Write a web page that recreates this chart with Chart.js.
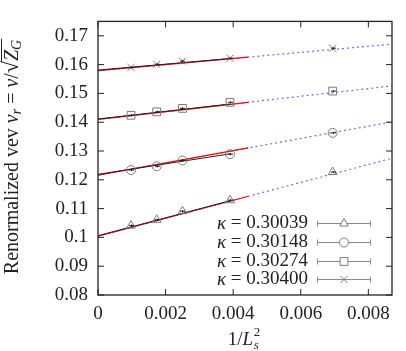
<!DOCTYPE html>
<html>
<head>
<meta charset="utf-8">
<script src="https://cdn.jsdelivr.net/npm/chart.js@4.4.1/dist/chart.umd.min.js"></script>
<style>
html,body{margin:0;padding:0;background:#fff;}
#wrap{width:406px;height:351px;position:relative;}
</style>
</head>
<body>
<div id="wrap"><canvas id="c" width="406" height="351"></canvas></div>
<script>
// ---- data ----
const invLs2 = [0.000977, 0.001736, 0.0025, 0.003906, 0.006944];
const kappaLabels = ['κ = 0.30039', 'κ = 0.30148', 'κ = 0.30274', 'κ = 0.30400'];
const vr30039 = [0.1041, 0.1061, 0.1091, 0.1129, 0.1227];
const vr30148 = [0.1234, 0.1247, 0.1267, 0.1289, 0.1363];
const vr30274 = [0.1424, 0.1436, 0.1448, 0.1469, 0.1508];
const vr30400 = [0.1590, 0.1601, 0.1612, 0.1622, 0.1657];
const err30039 = [0.0004, 0.0004, 0.0004, 0.0004, 0.0003];
const err30148 = [0.0004, 0.0004, 0.0004, 0.0004, 0.0003];
const err30274 = [0.0004, 0.0004, 0.0004, 0.0004, 0.0003];
const err30400 = [0.0004, 0.0004, 0.0004, 0.0004, 0.0003];
// fit lines: x ranges and end values
const fitBlackX = [0, 0.0039];
const fitBlack30039 = [0.1006, 0.1127];
const fitBlack30148 = [0.1219, 0.1290];
const fitBlack30274 = [0.1411, 0.1463];
const fitBlack30400 = [0.1581, 0.1621];
const fitRedX = [0, 0.00445];
const fitRed30039 = [0.1004, 0.1143];
const fitRed30148 = [0.1216, 0.1311];
const fitRed30274 = [0.1410, 0.1469];
const fitRed30400 = [0.1579, 0.1626];
const fitBlueX = [0, 0.0087];
const fitBlue30039 = [0.1004, 0.1275];
const fitBlue30148 = [0.1216, 0.1401];
const fitBlue30274 = [0.1410, 0.1526];
const fitBlue30400 = [0.1579, 0.1671];
const yTicksMin = 0.08, yTicksMax = 0.175, yStep = 0.01;
const xTicksMin = 0, xTicksMax = 0.0087, xStep = 0.002;

const series = [vr30039, vr30148, vr30274, vr30400];
const errs = [err30039, err30148, err30274, err30400];
const styles = ['triangle', 'circle', 'rect', 'crossRot'];
const radii = [5, 4.5, 5.5, 5];
const blacks = [fitBlack30039, fitBlack30148, fitBlack30274, fitBlack30400];
const reds = [fitRed30039, fitRed30148, fitRed30274, fitRed30400];
const blues = [fitBlue30039, fitBlue30148, fitBlue30274, fitBlue30400];

const FONT = '"Liberation Serif", serif';
const TXT = '#222';
const MARK = '#7a7a7a';

const pts = (xs, ys) => xs.map((x, i) => ({x: x, y: ys[i]}));
const datasets = [];
series.forEach((s, k) => {
  datasets.push({type: 'scatter', data: pts(invLs2, s), pointStyle: styles[k], pointRadius: radii[k],
    pointBorderColor: MARK, pointBackgroundColor: 'rgba(0,0,0,0)', pointBorderWidth: 1, showLine: false, order: 1});
});
blues.forEach(b => datasets.push({type: 'line', data: pts(fitBlueX, b), borderColor: '#6b6bff', borderWidth: 1.2,
  borderDash: [2, 3], pointRadius: 0, fill: false, order: 5}));
reds.forEach(b => datasets.push({type: 'line', data: pts(fitRedX, b), borderColor: '#ff0000', borderWidth: 1.2,
  pointRadius: 0, fill: false, order: 4}));
blacks.forEach(b => datasets.push({type: 'line', data: pts(fitBlackX, b), borderColor: '#222', borderWidth: 1,
  pointRadius: 0, fill: false, order: 3}));

const decor = {
  id: 'decor',
  afterDatasetsDraw(chart) {
    const ctx = chart.ctx, xs = chart.scales.x, ys = chart.scales.y, a = chart.chartArea;
    ctx.save();
    // error bars
    ctx.strokeStyle = '#222'; ctx.lineWidth = 1;
    series.forEach((s, k) => {
      s.forEach((v, i) => {
        const px = Math.round(xs.getPixelForValue(invLs2[i])) + 0.5;
        const y1 = ys.getPixelForValue(v - errs[k][i]), y2 = ys.getPixelForValue(v + errs[k][i]);
        ctx.beginPath();
        ctx.moveTo(px, y1); ctx.lineTo(px, y2);
        ctx.moveTo(px - 2.5, (y1 + y2) / 2); ctx.lineTo(px + 2.5, (y1 + y2) / 2);
        ctx.stroke();
      });
    });
    // frame
    ctx.strokeStyle = '#222'; ctx.lineWidth = 1.3;
    ctx.strokeRect(a.left, a.top, a.right - a.left, a.bottom - a.top);
    // inward ticks
    ctx.lineWidth = 1;
    ys.ticks.forEach(t => {
      const py = ys.getPixelForValue(t.value);
      ctx.beginPath();
      ctx.moveTo(a.left, py); ctx.lineTo(a.left + 6, py);
      ctx.moveTo(a.right, py); ctx.lineTo(a.right - 6, py);
      ctx.stroke();
    });
    xs.ticks.forEach(t => {
      const px = xs.getPixelForValue(t.value);
      ctx.beginPath();
      ctx.moveTo(px, a.bottom); ctx.lineTo(px, a.bottom - 6);
      ctx.moveTo(px, a.top); ctx.lineTo(px, a.top + 6);
      ctx.stroke();
    });
    // legend
    const rowY = [223, 242, 260.5, 279];
    ctx.textBaseline = 'middle';
    kappaLabels.forEach((lab, k) => {
      const y = Math.round(rowY[k]) + 0.5;
      ctx.fillStyle = TXT;
      const sym = lab.charAt(0), rest = lab.slice(1);
      ctx.font = '19px ' + FONT;
      ctx.textAlign = 'right';
      ctx.fillText(rest, 308, y);
      const rw = ctx.measureText(rest).width;
      ctx.font = 'italic 19px ' + FONT;
      ctx.fillText(sym, 308 - rw, y);
      ctx.strokeStyle = '#8a8a8a'; ctx.lineWidth = 1;
      const x1 = 317.5, x2 = 370.5;
      ctx.beginPath();
      ctx.moveTo(x1, y); ctx.lineTo(x2, y);
      ctx.moveTo(x1, y - 3); ctx.lineTo(x1, y + 3);
      ctx.moveTo(x2, y - 3); ctx.lineTo(x2, y + 3);
      ctx.stroke();
      ctx.fillStyle = '#fff';
      Chart.helpers.drawPoint(ctx, {pointStyle: styles[k], radius: radii[k], borderWidth: 0}, 344, y);
      ctx.fillStyle = 'rgba(0,0,0,0)';
      ctx.strokeStyle = MARK;
      Chart.helpers.drawPoint(ctx, {pointStyle: styles[k], radius: radii[k], borderWidth: 1}, 344, y);
    });
    ctx.restore();
  },
  afterDraw(chart) {
    const ctx = chart.ctx, a = chart.chartArea;
    ctx.save();
    ctx.fillStyle = TXT;
    ctx.textBaseline = 'alphabetic';
    // y title (rotated)
    ctx.translate(18, 157);
    ctx.rotate(-Math.PI / 2);
    const parts = [
      {t: 'Renormalized vev ', f: '20px ' + FONT, dy: 0},
      {t: 'v', f: 'italic 20px ' + FONT, dy: 0},
      {t: 'r', f: 'italic 14px ' + FONT, dy: 3},
      {t: ' = ', f: '20px ' + FONT, dy: 0},
      {t: 'v', f: 'italic 20px ' + FONT, dy: 0},
      {t: '/', f: '20px ' + FONT, dy: 0},
      {t: '√', f: '22px ' + FONT, dy: 0},
      {t: 'Z', f: 'italic 20px ' + FONT, dy: 0, over: true},
      {t: 'G', f: 'italic 14px ' + FONT, dy: 3, over: true}
    ];
    let w = 0;
    parts.forEach(p => { ctx.font = p.f; p.w = ctx.measureText(p.t).width; w += p.w; });
    let x = -w / 2, ox0 = null, ox1 = null;
    ctx.textAlign = 'left';
    parts.forEach(p => {
      ctx.font = p.f;
      ctx.fillText(p.t, x, p.dy);
      if (p.over) { if (ox0 === null) ox0 = x; ox1 = x + p.w; }
      x += p.w;
    });
    ctx.strokeStyle = TXT; ctx.lineWidth = 1;
    ctx.beginPath(); ctx.moveTo(ox0 - 1, -16.5); ctx.lineTo(ox1 + 1, -16.5); ctx.stroke();
    ctx.restore();
    // x title 1/L_s^2
    ctx.save();
    ctx.fillStyle = TXT; ctx.textBaseline = 'alphabetic'; ctx.textAlign = 'left';
    ctx.font = '19px ' + FONT;
    let tw = ctx.measureText('1/').width;
    ctx.font = 'italic 19px ' + FONT;
    const lw = ctx.measureText('L').width;
    tw += lw + 9;
    let cx = (a.left + a.right) / 2 - tw / 2, by = 345;
    ctx.font = '19px ' + FONT; ctx.fillText('1/', cx, by); cx += ctx.measureText('1/').width;
    ctx.font = 'italic 19px ' + FONT; ctx.fillText('L', cx, by); cx += lw + 0.5;
    ctx.font = 'italic 13px ' + FONT; ctx.fillText('s', cx, by + 4);
    ctx.font = '13px ' + FONT; ctx.fillText('2', cx, by - 9);
    ctx.restore();
  }
};

new Chart(document.getElementById('c'), {
  data: {datasets: datasets},
  options: {
    responsive: false, animation: false, devicePixelRatio: 1,
    layout: {padding: {top: 2, right: 14, left: 0, bottom: 0}},
    plugins: {legend: {display: false}, tooltip: {enabled: false}},
    scales: {
      x: {type: 'linear', min: xTicksMin, max: xTicksMax,
        grid: {display: false, drawTicks: false}, border: {display: false},
        ticks: {stepSize: xStep, includeBounds: false, padding: 8, color: TXT, font: {family: FONT, size: 19},
          callback: v => String(+v.toFixed(4)), maxRotation: 0},
        afterFit: s => { s.height = 56; }},
      y: {type: 'linear', min: yTicksMin, max: yTicksMax,
        grid: {display: false, drawTicks: false}, border: {display: false},
        ticks: {stepSize: yStep, includeBounds: false, padding: 10, color: TXT, font: {family: FONT, size: 19},
          callback: v => String(+v.toFixed(3))},
        afterFit: s => { s.width = 98; }}
    }
  },
  plugins: [decor]
});
</script>
</body>
</html>
